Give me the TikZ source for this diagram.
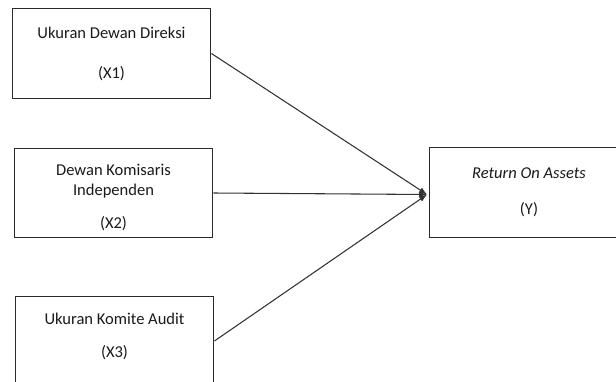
\documentclass[tikz,border=0pt]{standalone}
\usepackage{fontspec}
\setmainfont{Carlito}
\usepackage{xcolor}
\usepackage{tikz}
\usetikzlibrary{arrows.meta,positioning,calc}
\definecolor{cInk}{HTML}{1A1A1A}
\definecolor{cEdge}{HTML}{2B2B2B}
\definecolor{cLine}{HTML}{333333}
\tikzset{
  vbox/.style={draw=cEdge,fill=white,line width=0.9pt,align=center,text=cInk,
    minimum width=149pt,minimum height=67pt,inner sep=0pt,font=\fontsize{12.4}{15}\selectfont},
  arr/.style={-{Latex[length=6pt,width=4.5pt]},line width=0.8pt,color=cLine},
}

\begin{document}
\begin{tikzpicture}[x=0.75pt,y=-0.75pt]
    \useasboundingbox (0,0) rectangle (616,381);
    \clip (0,0) rectangle (616,381);
    \node[vbox] (x1)  at (111.5,53.5)  {Ukuran Dewan Direksi\\[15pt](X1)};
    \node[vbox] (x2)  at (113.5,193)   {\mbox{}\\[0pt]Dewan Komisaris\\Independen\\[10pt](X2)};
    \node[vbox] (x3)  at (114.5,341)   {Ukuran Komite Audit\\[10pt](X3)\\[-6pt]\mbox{}};
    \node[vbox] (roa) at (529,192.5)   {\textit{Return On Assets}\\[12pt](Y)};
    \coordinate (meet) at ([xshift=-1.5pt,yshift=-1.5pt]roa.west);
    % variables pointing to ROA
    \foreach \v in {x1,x2,x3}{\draw[arr] (\v.east) -- (meet);}
  \end{tikzpicture}
\end{document}
